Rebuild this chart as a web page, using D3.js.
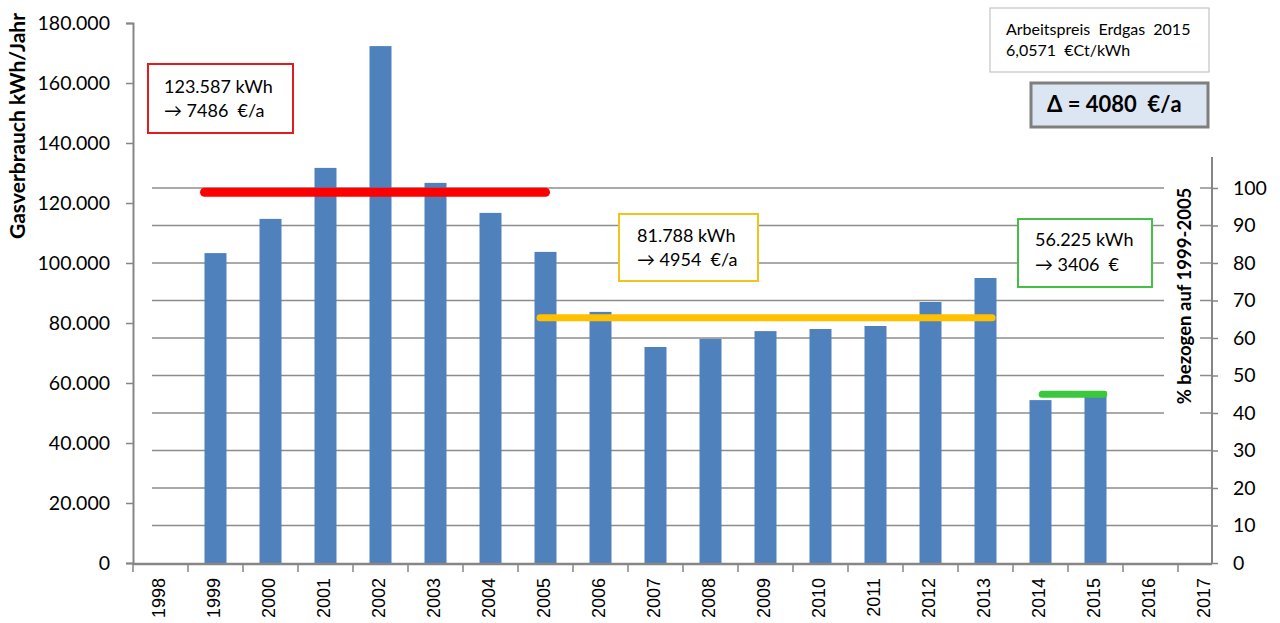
<!DOCTYPE html>
<html>
<head>
<meta charset="utf-8">
<script src="https://cdn.jsdelivr.net/npm/d3@7"></script>
<style>
  body { margin: 0; background: #fff; }
  svg { display: block; }
  text { font-family: Lato, "Open Sans", sans-serif; fill: #000; }
</style>
</head>
<body>
<svg id="chart" width="1280" height="623"></svg>
<script>
var years = ['1998', '1999', '2000', '2001', '2002', '2003', '2004', '2005', '2006', '2007',
  '2008', '2009', '2010', '2011', '2012', '2013', '2014', '2015', '2016', '2017']
var consumption = [null, 103300, 114700, 131700, 172300, 126700, 116700, 103700, 83700, 72000,
  74700, 77300, 78000, 79000, 87000, 95000, 54300, 57300, null, null]
var leftTicks = [0, 20000, 40000, 60000, 80000, 100000, 120000, 140000, 160000, 180000]
var rightTicks = [0, 10, 20, 30, 40, 50, 60, 70, 80, 90, 100]

// average levels: [from year, to year, kWh]
var avgFrom = [1998.8, 2004.9, 2014.03]
var avgTo = [2005, 2013.12, 2015.15]
var avgValue = [123587, 81788, 56225]
var avgColor = ['#ff0000', '#ffc000', '#3cc83c']

var svg = d3.select('#chart')

var x = d3.scaleBand().domain(years).range([133, 1233])
var yearPos = d3.scaleLinear().domain([1997.5, 2017.5]).range([133, 1233])
var yLeft = d3.scaleLinear().domain([0, 180000]).range([563, 23])
var yRight = d3.scaleLinear().domain([0, 100]).range([563, 188])

var de = d3.formatLocale({ decimal: ',', thousands: '.', grouping: [3], currency: ['', ' €'] })
var fmt = de.format(',')

// gridlines from the secondary axis
svg.append('g')
  .selectAll('line')
  .data(rightTicks.filter(function (d) { return d > 0 }))
  .enter().append('line')
    .attr('x1', 152)
    .attr('x2', 1212)
    .attr('y1', function (d) { return yRight(d) })
    .attr('y2', function (d) { return yRight(d) })
    .attr('stroke', '#8c8c8c')
    .attr('stroke-width', 1.5)

// bars
var barW = x.bandwidth() * 0.4
svg.append('g')
  .selectAll('rect')
  .data(years.map(function (y, i) { return { year: y, v: consumption[i] } })
    .filter(function (d) { return d.v !== null }))
  .enter().append('rect')
    .attr('x', function (d) { return x(d.year) + (x.bandwidth() - barW) / 2 })
    .attr('width', barW)
    .attr('y', function (d) { return yLeft(d.v) })
    .attr('height', function (d) { return yLeft(0) - yLeft(d.v) })
    .attr('fill', '#4f81bd')

// left axis
var gl = svg.append('g').attr('transform', 'translate(133,0)')
  .call(d3.axisLeft(yLeft).tickValues(leftTicks).tickFormat(fmt).tickSize(7).tickPadding(16))
gl.select('.domain').attr('stroke', '#868686').attr('stroke-width', 2)
gl.selectAll('.tick line').attr('stroke', '#868686').attr('stroke-width', 1.5)
gl.selectAll('.tick text').style('font-size', '19.5px').style('font-family', 'Lato, sans-serif').attr('fill', '#000')

// x axis
var gx = svg.append('g').attr('transform', 'translate(0,564)')
  .call(d3.axisBottom(x).tickSize(0).tickPadding(0))
gx.select('.domain').remove()
gx.selectAll('.tick text')
  .style('font-size', '18px')
  .style('font-family', '"Liberation Sans", Arial, sans-serif')
  .attr('fill', '#000')
  .attr('text-anchor', 'end')
  .attr('dy', null)
  .attr('transform', 'translate(4,14) rotate(-90)')
svg.append('line')
  .attr('x1', 133).attr('x2', 1212).attr('y1', 564).attr('y2', 564)
  .attr('stroke', '#868686').attr('stroke-width', 2.5)
svg.append('g')
  .selectAll('line')
  .data(years.filter(function (d, i) { return x(d) < 1212 }))
  .enter().append('line')
    .attr('x1', function (d) { return x(d) })
    .attr('x2', function (d) { return x(d) })
    .attr('y1', 564).attr('y2', 572)
    .attr('stroke', '#868686').attr('stroke-width', 1.5)

// right axis
var gr = svg.append('g').attr('transform', 'translate(1212,0)')
  .call(d3.axisRight(yRight).tickValues(rightTicks).tickSize(6).tickPadding(15))
gr.select('.domain').remove()
gr.selectAll('.tick line').attr('stroke', '#868686').attr('stroke-width', 1.5)
gr.selectAll('.tick text').style('font-size', '19.5px').style('font-family', 'Lato, sans-serif').attr('fill', '#000')
svg.append('line')
  .attr('x1', 1212).attr('x2', 1212)
  .attr('y1', yRight(108.3)).attr('y2', yRight(0))
  .attr('stroke', '#868686').attr('stroke-width', 2)

// average lines
svg.append('g')
  .selectAll('line')
  .data(avgValue)
  .enter().append('line')
    .attr('x1', function (d, i) { return yearPos(avgFrom[i]) })
    .attr('x2', function (d, i) { return yearPos(avgTo[i]) })
    .attr('y1', function (d) { return yLeft(d) })
    .attr('y2', function (d) { return yLeft(d) })
    .attr('stroke', function (d, i) { return avgColor[i] })
    .attr('stroke-width', function (d, i) { return i === 0 ? 9 : 7 })
    .attr('stroke-linecap', 'round')

// axis titles
svg.append('text')
  .attr('transform', 'translate(25,126) rotate(-90)')
  .attr('text-anchor', 'middle')
  .style('font-size', '21px')
  .style('font-weight', 'bold')
  .text('Gasverbrauch kWh/Jahr')

svg.append('rect')
  .attr('x', 1164).attr('y', 176).attr('width', 36).attr('height', 242)
  .attr('fill', '#fff')
svg.append('text')
  .attr('transform', 'translate(1191,296) rotate(-90)')
  .attr('text-anchor', 'middle')
  .style('font-size', '18.5px')
  .style('font-weight', 'bold')
  .text('% bezogen auf 1999-2005')

// annotation boxes
function box (x0, y0, w, h, stroke, sw, fill, lines, size, weight, tx, ty, lh) {
  svg.append('rect')
    .attr('x', x0).attr('y', y0).attr('width', w).attr('height', h)
    .attr('fill', fill).attr('stroke', stroke).attr('stroke-width', sw)
  lines.forEach(function (t, i) {
    svg.append('text')
      .attr('x', tx).attr('y', ty + i * lh)
      .style('font-size', size + 'px')
      .style('font-weight', weight)
      .style('white-space', 'pre')
      .text(t)
  })
}

box(148, 64, 145, 69, '#e21c1c', 2, '#fff', ['123.587 kWh', '\u2192 7486  \u20ac/a'], 18, 'normal', 164, 93, 24)
box(619, 214, 139, 67, '#f2c31a', 2, '#fff', ['81.788 kWh', '\u2192 4954  \u20ac/a'], 18, 'normal', 637, 242, 24)
box(1018, 219, 134, 68, '#44c044', 2, '#fff', ['56.225 kWh', '\u2192 3406  \u20ac'], 18, 'normal', 1035, 246, 25)
box(990, 8, 219, 64, '#c4c4c4', 1.2, '#fff', ['Arbeitspreis  Erdgas  2015', '6,0571  \u20acCt/kWh'], 16, 'normal', 1006, 35, 21)
box(1031, 83, 177, 44, '#7f7f7f', 3, '#dce6f2', ['\u0394 = 4080  \u20ac/a'], 22, 'bold', 1047, 112, 0)
</script>
</body>
</html>
